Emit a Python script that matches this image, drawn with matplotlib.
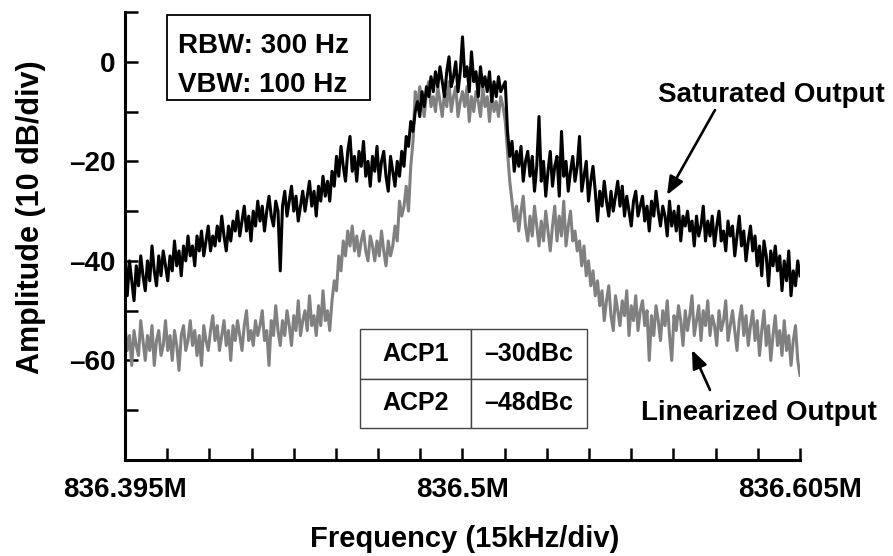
import numpy as np
import matplotlib
matplotlib.use("Agg")
import matplotlib.pyplot as plt
from matplotlib.patches import Rectangle

FONT = ['Liberation Sans', 'DejaVu Sans']
plt.rcParams['font.family'] = FONT
plt.rcParams['font.weight'] = 'bold'

f_start, f_center, f_stop = 836.395, 836.5, 836.605
x_tick_labels = ['836.395M', '836.5M', '836.605M']
y_tick_values = [0, -20, -40, -60]
y_tick_labels = ['0', '–20', '–40', '–60']

saturated = [
    -38, -47, -40, -44, -48, -41, -45, -39, -43, -46,
    -40, -44, -37, -42, -45, -39, -43, -38, -41, -44,
    -39, -42, -36, -41, -38, -43, -37, -40, -35, -39,
    -37, -41, -35, -38, -34, -39, -36, -33, -38, -35,
    -37, -33, -36, -31, -35, -38, -33, -36, -32, -34,
    -30, -35, -32, -29, -34, -31, -36, -30, -33, -28,
    -32, -29, -34, -30, -27, -31, -33, -28, -30, -42,
    -29, -26, -31, -28, -25, -30, -27, -32, -29, -26,
    -30, -27, -24, -29, -26, -31, -25, -28, -23, -27,
    -24, -28, -22, -25, -19, -23, -17, -21, -24, -18,
    -15, -22, -19, -24, -18, -21, -16, -23, -20, -25,
    -19, -22, -17, -24, -20, -18, -23, -26, -19, -22,
    -25, -20, -23, -18, -21, -15, -17, -12, -14, -10,
    -8, -11, -6, -9, -5, -7, -3, -6, -2, -5,
    -1, -4, -7, -2, 1, -5, -3, 0, -6, -2,
    5, -3, -1, -6, 2, -4, -2, -7, -1, -5,
    -3, -6, -2, -8, -4, -7, -3, -6, -5, -4,
    -14, -19, -16, -22, -18, -21, -17, -24, -20, -18,
    -23, -19, -26, -21, -11, -24, -20, -27, -22, -18,
    -25, -21, -19, -27, -14, -23, -20, -26, -22, -19,
    -24, -21, -15, -26, -23, -20, -28, -24, -21, -26,
    -32, -26, -29, -24, -28, -31, -26, -30, -27, -24,
    -29, -25, -31, -27, -30, -33, -28, -26, -31, -29,
    -27, -32, -29, -34, -28, -31, -26, -30, -33, -29,
    -31, -35, -28, -33, -30, -34, -29, -36, -31, -33,
    -30, -34, -32, -37, -31, -35, -33, -29, -36, -32,
    -35, -31, -37, -33, -30, -36, -34, -38, -32, -35,
    -33, -39, -35, -31, -37, -34, -40, -36, -33, -38,
    -35, -41, -37, -43, -36, -39, -45, -38, -41, -37,
    -42, -39, -46, -40, -44, -38, -47, -42, -45, -40,
    -43,
]

linearized = [
    -53, -58, -55, -61, -54, -57, -59, -52, -56, -60,
    -55, -58, -53, -61, -56, -54, -59, -57, -52, -58,
    -55, -60, -54, -57, -62, -55, -53, -58, -56, -52,
    -57, -54, -59, -55, -61, -53, -56, -58, -54, -51,
    -56, -53, -58, -55, -52, -57, -54, -60, -53, -56,
    -52, -55, -58, -53, -50, -56, -54, -57, -52, -55,
    -53, -50, -56, -54, -61, -52, -55, -49, -54, -57,
    -52, -55, -50, -53, -57, -51, -54, -48, -55, -52,
    -50, -54, -47, -53, -51, -55, -49, -53, -46, -52,
    -50, -54, -48, -44, -46, -39, -42, -36, -39, -34,
    -37, -33, -38, -35, -39, -36, -34, -38, -40, -35,
    -37, -40, -36, -39, -34, -38, -41, -36, -39, -37,
    -33, -36, -28, -31, -29, -25, -30, -21, -16, -6,
    -9, -5, -8, -11, -6, -4, -9, -7, -10, -5,
    -8, -11, -6, -9, -4, -10, -7, -5, -11, -8,
    -6, -9, -5, -12, -7, -10, -6, -8, -11, -5,
    -9, -7, -12, -6, -10, -8, -11, -7, -9, -12,
    -18, -24, -28, -32, -29, -34, -30, -27, -33, -36,
    -31, -35, -29, -33, -37, -32, -36, -30, -34, -38,
    -33, -29, -36, -31, -35, -28, -37, -33, -30, -36,
    -34, -38, -36, -41, -37, -43, -40, -45, -42, -47,
    -44, -49, -46, -52, -48, -45, -51, -54, -47, -50,
    -53, -48, -51, -46, -55, -49, -52, -47, -54, -50,
    -48, -53, -50, -60, -51, -55, -49, -52, -56, -50,
    -53, -48, -55, -60, -51, -54, -49, -52, -57, -50,
    -54, -51, -47, -55, -52, -49, -56, -50, -53, -48,
    -55, -51, -53, -57, -50, -54, -52, -48, -56, -53,
    -50, -54, -58, -52, -49, -55, -51, -57, -53, -50,
    -56, -52, -59, -54, -50, -57, -53, -60, -55, -51,
    -57, -54, -59, -52, -58, -55, -61, -56, -53, -60,
    -63,
]

acp_rows = [['ACP1', '–30dBc'], ['ACP2', '–48dBc']]

freq_sat = np.linspace(f_start, f_stop, len(saturated))
freq_lin = np.linspace(f_start, f_stop, len(linearized))

W, H = 893, 556
fig = plt.figure(figsize=(W/100, H/100), dpi=100)
ax = fig.add_axes([125/W, 1 - 460/H, 675/W, 448/H])

ax.plot(freq_lin, linearized, color='#808080', lw=2.2)
ax.plot(freq_sat, saturated, color='black', lw=2.2)

ax.set_xlim(f_start, f_stop)
ax.set_ylim(-80, 10)

for s in ['top', 'right']:
    ax.spines[s].set_visible(False)
for s in ['left', 'bottom']:
    ax.spines[s].set_linewidth(2.2)

xt = np.linspace(f_start, f_stop, 17)
ax.set_xticks(xt)
xl = [''] * 17
xl[0], xl[8], xl[16] = x_tick_labels
ax.set_xticklabels(xl)
yt = np.arange(-80, 11, 10)
ax.set_yticks(yt)
ax.set_yticklabels([y_tick_labels[y_tick_values.index(v)] if v in y_tick_values else '' for v in yt])
ax.tick_params(direction='in', length=9, width=1.8, labelsize=20)
ax.tick_params(axis='x', pad=12)
ax.tick_params(axis='y', pad=7)
for lab in ax.get_xticklabels() + ax.get_yticklabels():
    lab.set_fontweight('bold')

def fx(px):
    return px / W

def fy(py):
    return 1 - py / H

fig.text(fx(465), fy(547), 'Frequency (15kHz/div)', fontsize=21, fontweight='bold',
         ha='center', va='baseline')
fig.text(fx(31), fy(217), 'Amplitude (10 dB/div)', fontsize=22, fontweight='bold',
         ha='center', va='center', rotation=90)

# RBW / VBW box
fig.patches.append(Rectangle((fx(167), fy(100)), fx(370) - fx(167), fy(15) - fy(100),
                             transform=fig.transFigure, fill=False, ec='black', lw=1.3))
fig.text(fx(178), fy(53), 'RBW: 300 Hz', fontsize=20, fontweight='bold', ha='left', va='baseline')
fig.text(fx(178), fy(92), 'VBW: 100 Hz', fontsize=20, fontweight='bold', ha='left', va='baseline')

tbl = ax.table(cellText=acp_rows, cellLoc='center',
               bbox=[(360-125)/675, (460-428)/448, (587-360)/675, (428-329)/448],
               colWidths=[(471-360), (587-471)])
tbl.auto_set_font_size(False)
for (r, c), cell in tbl.get_celld().items():
    cell.set_edgecolor('#444444')
    cell.set_linewidth(1.0)
    cell.get_text().set_fontsize(18)
    cell.get_text().set_fontweight('bold')

fig.text(fx(771), fy(102), 'Saturated Output', fontsize=20, fontweight='bold',
         ha='center', va='baseline')
fig.text(fx(759), fy(420), 'Linearized Output', fontsize=20, fontweight='bold',
         ha='center', va='baseline')

arrow_style = dict(arrowstyle='-|>,head_length=1.1,head_width=0.45', color='black',
                   lw=1.9, shrinkA=0, shrinkB=0)
ax.annotate('', xy=(667, H - 195), xycoords='figure pixels',
            xytext=(715, H - 110), textcoords='figure pixels', arrowprops=arrow_style)
ax.annotate('', xy=(692, H - 350), xycoords='figure pixels',
            xytext=(710, H - 390), textcoords='figure pixels', arrowprops=arrow_style)

fig.savefig('out.png', dpi=100)
